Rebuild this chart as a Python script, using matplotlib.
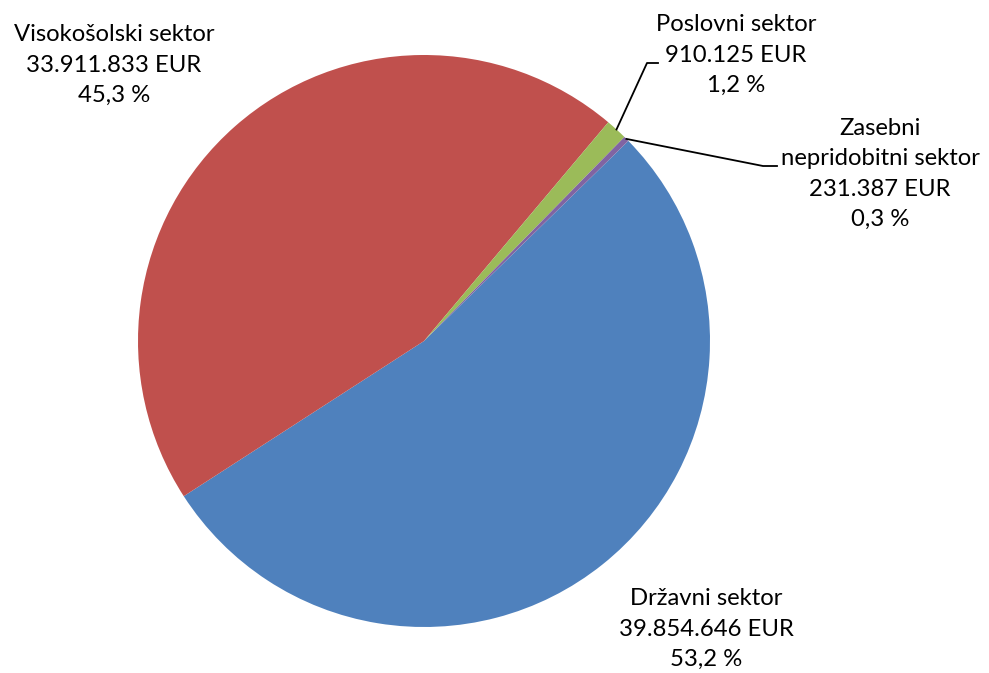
import numpy as np
from matplotlib import pyplot as plt

# podatki
sektorji = ['Državni sektor', 'Visokošolski sektor', 'Poslovni sektor', 'Zasebni\nnepridobitni sektor']
vrednosti = [39854646, 33911833, 910125, 231387]
odstotki = ['53,2 %', '45,3 %', '1,2 %', '0,3 %']
barve = ['#4F81BD', '#C0504D', '#9BBB59', '#8064A2']

W, H = 989, 673
cx, cy, R = 424, 341, 286
start = 44.4

# pozicije oznak (piksli od zgoraj levo)
oznake_xy = [(706, 629), (114, 65), (736, 55), (880, 174)]
# vodilne crte: (koleno, konec) za majhne rezine
vodila = {2: ((647, 63), (658, 63)), 3: ((763, 166), (777, 166))}


def fmt_eur(v):
    return '{:,}'.format(v).replace(',', '.') + ' EUR'


plt.rcParams['font.family'] = ['Lato', 'DejaVu Sans']

fig = plt.figure(figsize=(W / 100, H / 100), dpi=100)
ax = fig.add_axes([0, 0, 1, 1])

wedges, _ = ax.pie(vrednosti, colors=barve, startangle=start, counterclock=False,
                   center=(cx, H - cy), radius=R, frame=True,
                   wedgeprops=dict(linewidth=0))
ax.set_xlim(0, W)
ax.set_ylim(0, H)
ax.set_aspect('equal')
ax.axis('off')

for i, name in enumerate(sektorji):
    lx, ly = oznake_xy[i]
    txt = name + '\n' + fmt_eur(vrednosti[i]) + '\n' + odstotki[i]
    ax.text(lx, H - ly, txt, ha='center', va='center', multialignment='center',
            fontsize=17.2, linespacing=1.55, color='black')

for i, (koleno, konec) in vodila.items():
    w = wedges[i]
    mid = np.deg2rad((w.theta1 + w.theta2) / 2)
    px = cx + R * np.cos(mid)
    py = (H - cy) + R * np.sin(mid)
    ax.plot([px, koleno[0], konec[0]], [py, H - koleno[1], H - konec[1]],
            color='black', linewidth=1.3)

plt.savefig('out.png', dpi=100)
